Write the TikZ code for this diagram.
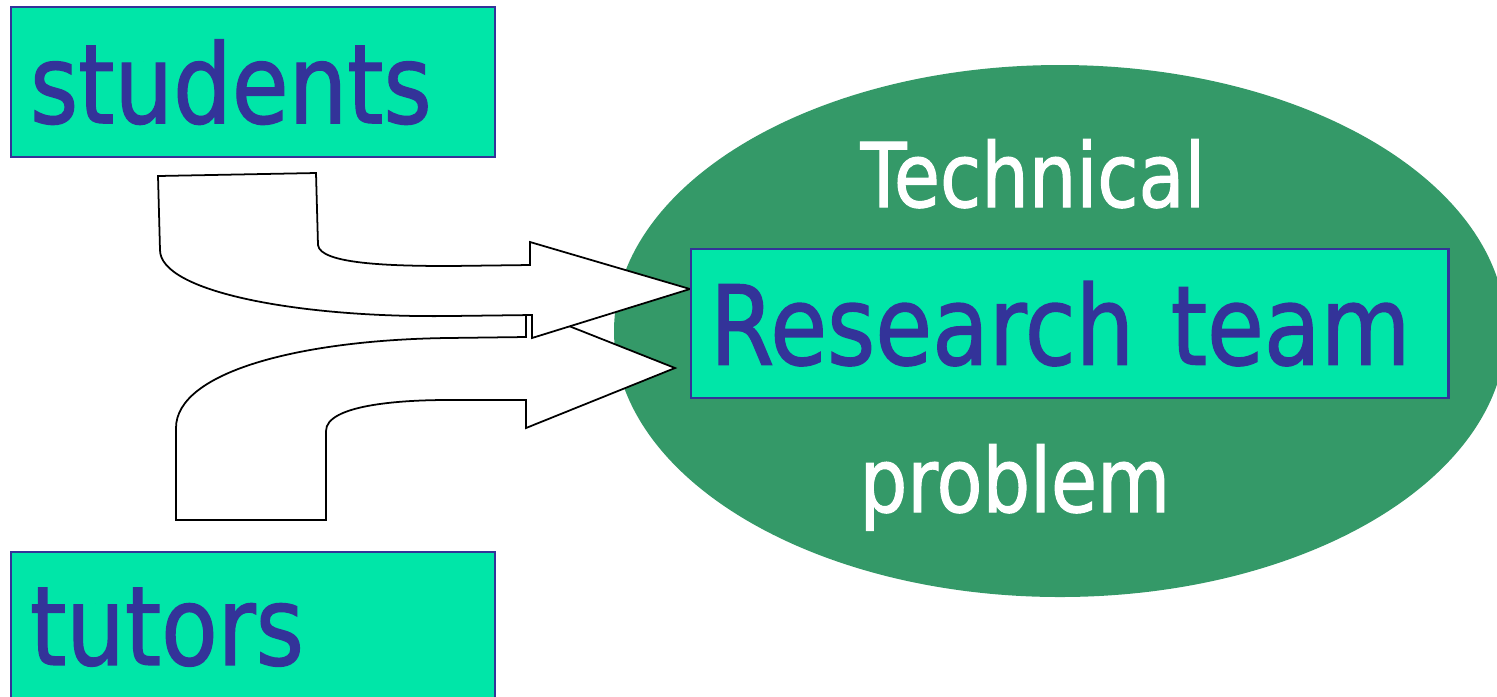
\documentclass[tikz,border=0pt]{standalone}
\usepackage{fontspec}
\setmainfont[FakeStretch=0.84, FakeBold=1.2]{DejaVu Sans}
\usepackage{tikz}
\definecolor{boxgreen}{RGB}{0,230,168}
\definecolor{teamgreen}{RGB}{52,153,104}
\definecolor{inkblue}{RGB}{51,51,153}

\begin{document}
\begin{tikzpicture}[x=0.01cm, y=-0.01cm,
    box/.style={draw=inkblue, line width=0.6pt, fill=boxgreen, text=inkblue,
        font=\fontsize{31.3}{36}\selectfont, anchor=north west, align=left,
        inner xsep=0.19cm, inner ysep=0pt, minimum height=1.5cm},
    word/.style={text=white, font=\fontsize{25.4}{30}\selectfont, anchor=base west, inner sep=0pt},
    bigarrow/.style={draw=black, fill=white, line width=0.5pt, line join=miter}]
    \useasboundingbox (0,0) rectangle (1497,696);
    \clip (0,0) rectangle (1497,696);
    % team
    \fill[teamgreen] (1060,331) ellipse [x radius=446, y radius=266];
    \node[word] (technical) at (860,207) {Technical};
    \node[word] (problem) at (859,512) {problem};
    % left boxes
    \foreach \name/\y/\txt in {students/6/students, tutors/551/tutors}{
        \node[box, text width=4.46cm] (\name) at (10,\y) {\txt};
    }
    % arrows
    \draw[bigarrow] (176,520) -- (326,520) -- (326,431)
        .. controls (326,405) and (400,400) .. (447,400) -- (526,400) -- (526,428)
        -- (675,368) -- (526,309) -- (526,337) -- (447,338)
        .. controls (300,340) and (176,372) .. (176,428) -- cycle;
    \draw[bigarrow] (158,176) -- (316,173) -- (318,245)
        .. controls (320,264) and (390,266) .. (450,266) -- (530,265) -- (530,242)
        -- (690,289) -- (532,338) -- (532,315) -- (450,316)
        .. controls (300,318) and (160,292) .. (160,250) -- cycle;
    \node[box, text width=7.19cm, minimum height=1.49cm] (team) at (690,248) {Research team};
\end{tikzpicture}
\end{document}
